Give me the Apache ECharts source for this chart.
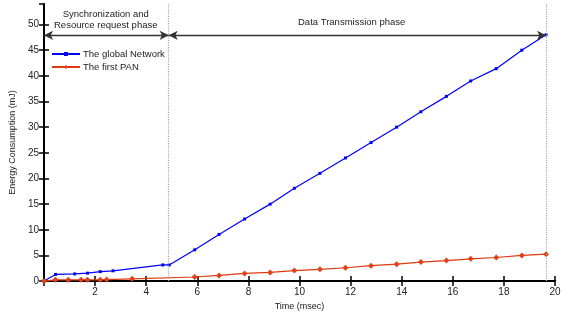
<!DOCTYPE html>
<html lang="en">
<head>
  <meta charset="UTF-8">
  <title>Energy consumption</title>
  <script src="https://cdn.jsdelivr.net/npm/echarts@6/dist/echarts.min.js"></script>
  <style>
    html, body { margin: 0; padding: 0; background: #fff; }
    #main { width: 573px; height: 316px; }
  </style>
</head>
<body>
  <div id="main"></div>
  <script>
    // global network
    var netTime = [0, 0.45, 1.2, 1.7, 2.2, 2.7, 4.65, 4.9, 5.9, 6.85, 7.85, 8.85, 9.8, 10.8, 11.8, 12.8, 13.8, 14.75, 15.75, 16.7, 17.7, 18.7, 19.65];
    var netEnergy = [0, 1.3, 1.4, 1.55, 1.85, 2.0, 3.15, 3.15, 6.1, 9.1, 12.1, 15.0, 18.1, 21.0, 24.0, 27.0, 30.0, 33.0, 36.0, 39.0, 41.4, 45.0, 48.0];
    // first PAN
    var panTime = [0, 0.45, 0.95, 1.45, 1.7, 2.2, 2.45, 3.45, 5.9, 6.85, 7.85, 8.85, 9.8, 10.8, 11.8, 12.8, 13.8, 14.75, 15.75, 16.7, 17.7, 18.7, 19.65];
    var panEnergy = [0, 0.25, 0.25, 0.25, 0.25, 0.25, 0.3, 0.45, 0.8, 1.1, 1.5, 1.7, 2.05, 2.3, 2.6, 3.0, 3.3, 3.7, 4.0, 4.35, 4.6, 5.0, 5.25];
    // phase boundaries and arrow level
    var phaseBounds = [0, 4.88, 19.65];
    var arrowLevel = 47.9;

    var netData = [], panData = [];
    for (var i = 0; i < netTime.length; i++) netData.push([netTime[i], netEnergy[i]]);
    for (var j = 0; j < panTime.length; j++) panData.push([panTime[j], panEnergy[j]]);

    var font = 'Liberation Sans, Arial, sans-serif';
    var chart = echarts.init(document.getElementById('main'));

    var option = {
      animation: false,
      textStyle: { fontFamily: font },
      grid: { left: 43, right: 18, top: 4, bottom: 32 },
      legend: {
        left: 51, top: 49, orient: 'vertical', itemGap: 3, padding: 0,
        itemWidth: 28, itemHeight: 5,
        textStyle: { fontSize: 9.5, color: '#222', fontFamily: font, padding: [0, 0, 0, -2] },
        data: ['The global Network', 'The first PAN']
      },
      xAxis: [{
        type: 'value', min: 0, max: 20, interval: 2,
        name: 'Time (msec)', nameLocation: 'middle', nameGap: 17,
        nameTextStyle: { fontSize: 9, color: '#222' },
        axisLine: { lineStyle: { color: '#000', width: 2 } },
        axisTick: { inside: true, length: 5, lineStyle: { color: '#000', width: 1.5 } },
        axisLabel: { fontSize: 10, color: '#222', margin: 6,
          formatter: function (v) { return v === 0 ? '' : v; } },
        splitLine: { show: false }
      }, {
        type: 'value', min: 0, max: 20, interval: 2, position: 'top',
        axisLine: { lineStyle: { color: '#000', width: 1.5 } },
        axisTick: { inside: true, length: 5, lineStyle: { color: '#000', width: 1.5 } },
        axisLabel: { show: false }, splitLine: { show: false }
      }],
      yAxis: [{
        type: 'value', min: 0, max: 54, interval: 5,
        name: 'Energy Consumption (mJ)', nameLocation: 'middle', nameGap: 26,
        nameTextStyle: { fontSize: 9, color: '#222' },
        axisLine: { lineStyle: { color: '#000', width: 2 } },
        axisTick: { inside: true, length: 5, lineStyle: { color: '#000', width: 1.5 } },
        axisLabel: { fontSize: 10, color: '#222', margin: 5, showMaxLabel: false },
        splitLine: { show: false }
      }, {
        type: 'value', min: 0, max: 54, interval: 5, position: 'right',
        axisLine: { lineStyle: { color: '#000', width: 1.5 } },
        axisTick: { inside: true, length: 5, lineStyle: { color: '#000', width: 1.5 } },
        axisLabel: { show: false }, splitLine: { show: false }
      }],
      graphic: [
        { type: 'text', left: 54, top: 9, style: { text: 'Synchronization and\nResource request phase', textAlign: 'center', fontSize: 9.5, lineHeight: 11, fill: '#222', fontFamily: font } },
        { type: 'text', left: 298, top: 17, style: { text: 'Data Transmission phase', fontSize: 9.5, fill: '#222', fontFamily: font } }
      ],
      series: [{
        name: 'The global Network', type: 'line', data: netData,
        symbol: 'rect', symbolSize: 3,
        itemStyle: { color: '#0000ff' },
        lineStyle: { color: '#0000ff', width: 1.2 },
        markLine: {
          silent: true, symbol: ['none', 'none'], label: { show: false },
          lineStyle: { color: '#aaa', type: 'dotted', width: 1.2 },
          data: [{ xAxis: phaseBounds[1] }, { xAxis: phaseBounds[2] }]
        }
      }, {
        name: 'The first PAN', type: 'line', data: panData,
        symbol: 'diamond', symbolSize: 6,
        itemStyle: { color: '#e0401a' },
        lineStyle: { color: '#dd3a10', width: 1.2 },
        markLine: {
          silent: true, symbol: ['arrow', 'arrow'], symbolSize: [7, 9], label: { show: false },
          lineStyle: { color: '#333', type: 'solid', width: 1.3 },
          data: [
            [{ coord: [phaseBounds[0], arrowLevel] }, { coord: [phaseBounds[1], arrowLevel] }],
            [{ coord: [phaseBounds[1], arrowLevel] }, { coord: [phaseBounds[2], arrowLevel] }]
          ]
        }
      }]
    };
    chart.setOption(option);
  </script>
</body>
</html>
